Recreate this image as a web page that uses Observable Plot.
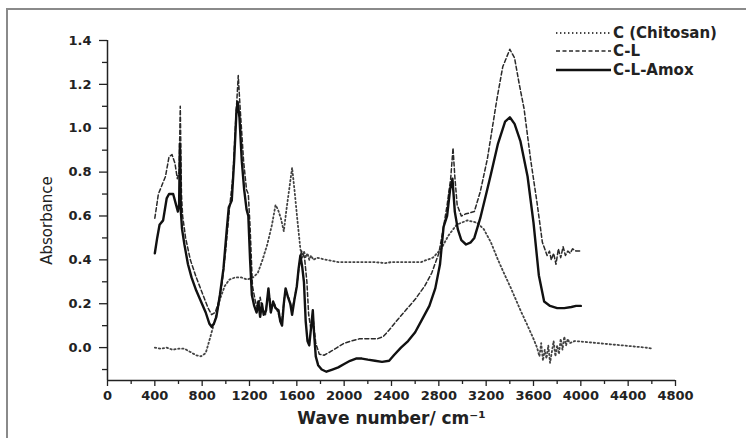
<!DOCTYPE html>
<html>
<head>
<meta charset="utf-8">
<script src="https://cdn.jsdelivr.net/npm/d3@7"></script>
<script src="https://cdn.jsdelivr.net/npm/@observablehq/plot@0.6"></script>
<style>
  html, body { margin: 0; padding: 0; background: #fff; overflow: hidden; }
  #wrap { position: relative; width: 746px; height: 438px; overflow: hidden; background: #fff; }
  #frame { position: absolute; left: 6px; top: 8px; width: 800px; height: 500px; border: 2px solid #8a8a8a; box-sizing: border-box; }
  #chart { position: absolute; left: 0; top: 0; }
  #legend { position: absolute; left: 0; top: 0; }
</style>
</head>
<body>
<div id="wrap"><div id="frame"></div><div id="chart"></div><div id="legend"></div></div>
<script>
// ---- data ----
const seriesNames = ["C (Chitosan)", "C-L", "C-L-Amox"];

const cX = [400,450,500,550,600,650,700,750,790,830,870,910,950,990,1030,1080,1130,1180,1230,1270,1310,1350,1390,1420,1440,1465,1490,1510,1530,1560,1580,1605,1630,1645,1660,1675,1690,1705,1720,1740,1770,1850,1950,2100,2250,2350,2400,2500,2650,2750,2820,2880,2950,3040,3120,3180,3240,3300,3350,3410,3490,3550,3600,3630,3650,3665,3680,3695,3710,3725,3740,3755,3770,3785,3800,3815,3830,3845,3860,3875,3890,3905,3950,4050,4150,4250,4350,4450,4550,4610];
const cY = [0.00,-0.005,0.00,-0.01,-0.005,-0.005,-0.02,-0.035,-0.04,-0.025,0.05,0.13,0.22,0.28,0.31,0.32,0.32,0.31,0.32,0.34,0.40,0.47,0.56,0.65,0.63,0.59,0.53,0.62,0.70,0.82,0.72,0.58,0.45,0.41,0.44,0.41,0.43,0.40,0.42,0.40,0.41,0.40,0.39,0.39,0.39,0.385,0.39,0.39,0.39,0.41,0.45,0.51,0.56,0.58,0.57,0.54,0.48,0.40,0.34,0.27,0.17,0.10,0.04,0.00,-0.04,0.02,-0.06,-0.01,-0.05,0.01,-0.07,-0.02,0.03,-0.04,0.01,-0.03,0.04,-0.01,0.05,0.01,0.04,0.02,0.03,0.025,0.02,0.015,0.01,0.005,0.00,-0.005];

const clX = [400,430,460,490,520,545,570,590,605,615,625,635,660,700,750,800,850,880,910,940,970,1000,1030,1060,1085,1105,1120,1150,1175,1190,1205,1225,1250,1270,1290,1310,1335,1360,1385,1410,1440,1470,1500,1530,1560,1600,1625,1640,1665,1685,1700,1720,1740,1760,1790,1830,1880,1940,2000,2060,2130,2200,2280,2330,2380,2440,2520,2600,2680,2740,2800,2840,2870,2900,2920,2935,2955,2990,3030,3100,3150,3210,3290,3340,3400,3440,3480,3520,3575,3630,3675,3715,3735,3750,3770,3790,3810,3830,3850,3870,3890,3910,3930,3960,3990];
const clY = [0.59,0.70,0.74,0.78,0.87,0.88,0.84,0.77,0.80,1.10,0.70,0.60,0.50,0.40,0.32,0.25,0.18,0.15,0.16,0.21,0.30,0.45,0.63,0.78,1.05,1.24,1.10,0.85,0.72,0.70,0.55,0.28,0.21,0.18,0.23,0.17,0.15,0.26,0.18,0.20,0.16,0.11,0.25,0.23,0.17,0.28,0.40,0.44,0.41,0.30,0.15,0.08,0.12,0.02,-0.03,-0.035,-0.02,0.00,0.02,0.03,0.04,0.04,0.04,0.05,0.08,0.12,0.17,0.22,0.28,0.34,0.43,0.55,0.65,0.77,0.91,0.78,0.65,0.60,0.61,0.62,0.71,0.86,1.13,1.28,1.36,1.32,1.20,1.09,0.86,0.66,0.48,0.42,0.44,0.40,0.43,0.38,0.45,0.41,0.46,0.42,0.44,0.43,0.45,0.44,0.44];

const claX = [400,420,440,470,500,520,555,575,595,605,612,620,630,650,680,710,750,790,830,860,880,900,920,950,980,1005,1025,1050,1070,1090,1100,1115,1135,1155,1175,1190,1205,1220,1240,1260,1275,1290,1305,1320,1340,1360,1380,1400,1420,1445,1460,1475,1490,1505,1525,1545,1560,1580,1600,1615,1630,1645,1660,1675,1690,1705,1720,1735,1745,1760,1780,1810,1850,1900,1950,2000,2050,2100,2150,2200,2260,2320,2380,2420,2480,2540,2600,2660,2720,2770,2810,2840,2870,2895,2915,2935,2960,2990,3030,3070,3100,3150,3200,3240,3300,3360,3400,3440,3490,3550,3600,3645,3690,3740,3800,3860,3920,3960,4000];
const claY = [0.43,0.50,0.56,0.58,0.68,0.70,0.70,0.66,0.62,0.65,0.93,0.62,0.54,0.47,0.38,0.32,0.26,0.21,0.16,0.11,0.095,0.11,0.14,0.24,0.36,0.52,0.64,0.67,0.85,1.08,1.12,1.05,0.85,0.72,0.63,0.60,0.40,0.24,0.19,0.16,0.21,0.14,0.20,0.15,0.17,0.27,0.16,0.21,0.18,0.17,0.12,0.10,0.20,0.27,0.23,0.20,0.15,0.22,0.28,0.36,0.42,0.37,0.30,0.12,0.03,0.01,0.09,0.17,0.07,-0.04,-0.08,-0.10,-0.11,-0.10,-0.09,-0.075,-0.06,-0.05,-0.05,-0.055,-0.06,-0.065,-0.06,-0.035,0.00,0.03,0.07,0.13,0.19,0.27,0.38,0.55,0.60,0.72,0.77,0.62,0.54,0.49,0.47,0.48,0.50,0.59,0.70,0.79,0.93,1.03,1.05,1.02,0.94,0.78,0.57,0.33,0.21,0.19,0.18,0.18,0.185,0.19,0.19];

const xMajorTicks = [0,400,800,1200,1600,2000,2400,2800,3200,3600,4000,4400,4800];
const xMinorTicks = [200,600,1000,1400,1800,2200,2600,3000,3400,3800,4200,4600];
const yMajorTicks = [0.0,0.2,0.4,0.6,0.8,1.0,1.2,1.4];
const yMinorTicks = [-0.1,0.1,0.3,0.5,0.7,0.9,1.1,1.3];
const xLabel = "Wave number/ cm⁻¹";
const yLabel = "Absorbance";

// ---- build table ----
const rows = [];
[[cX,cY],[clX,clY],[claX,claY]].forEach(([xs,ys],i) => {
  xs.forEach((x,j) => rows.push({series: seriesNames[i], x, y: ys[j]}));
});
const styles = {
  "C (Chitosan)": {stroke: "#444", strokeWidth: 1.8, dash: "1.4,2.6"},
  "C-L": {stroke: "#2a2a2a", strokeWidth: 1.5, dash: "4,2.5"},
  "C-L-Amox": {stroke: "#111", strokeWidth: 2.4, dash: null}
};

const font = "DejaVu Sans";
const lineMarks = seriesNames.map(name => Plot.line(rows.filter(r => r.series === name), {
  x: "x", y: "y", stroke: styles[name].stroke, strokeWidth: styles[name].strokeWidth,
  strokeDasharray: styles[name].dash, strokeLinejoin: "round"
}));

const chart = Plot.plot({
  width: 746, height: 438,
  marginLeft: 107, marginRight: 71, marginTop: 40, marginBottom: 58,
  style: {fontFamily: font, fontSize: "13px", fontWeight: "bold", color: "#222", background: "transparent"},
  x: {domain: [0, 4800]},
  y: {domain: [-0.15, 1.4]},
  marks: [
    ...lineMarks,
    Plot.ruleY([-0.15], {stroke: "#222", strokeWidth: 1.5}),
    Plot.ruleX([0], {stroke: "#222", strokeWidth: 1.5}),
    Plot.axisX({ticks: xMajorTicks, tickSize: 6, tickPadding: 4, tickFormat: d => String(d), label: null, strokeWidth: 1.3}),
    Plot.axisX({ticks: xMinorTicks, tickSize: 4, tickFormat: () => "", label: null, strokeWidth: 1.3}),
    Plot.axisY({ticks: yMajorTicks, tickSize: 8, tickPadding: 8, tickFormat: d => d.toFixed(1), label: null, strokeWidth: 1.3}),
    Plot.axisY({ticks: yMinorTicks, tickSize: 5, tickFormat: () => "", label: null, strokeWidth: 1.3}),
    Plot.text([xLabel], {frameAnchor: "bottom", dy: 43, fontSize: 17, fontWeight: "bold", fill: "#222"}),
    Plot.text([yLabel], {frameAnchor: "left", textAnchor: "middle", rotate: -90, dx: -60, dy: 10, fontSize: 15, fontWeight: "normal", fill: "#222"})
  ]
});
document.getElementById("chart").appendChild(chart);

// ---- legend ----
const leg = d3.select("#legend").append("svg").attr("width", 746).attr("height", 100)
  .style("font-family", font);
const legY = [33, 51, 70];
seriesNames.forEach((name, i) => {
  const s = styles[name];
  leg.append("line").attr("x1", 556).attr("x2", 611).attr("y1", legY[i]).attr("y2", legY[i])
    .attr("stroke", s.stroke).attr("stroke-width", s.strokeWidth)
    .attr("stroke-dasharray", s.dash);
  leg.append("text").attr("x", 613).attr("y", legY[i]).attr("dy", "0.36em")
    .attr("font-size", 15).attr("font-weight", "bold").attr("fill", "#222").text(name);
});
</script>
</body>
</html>
